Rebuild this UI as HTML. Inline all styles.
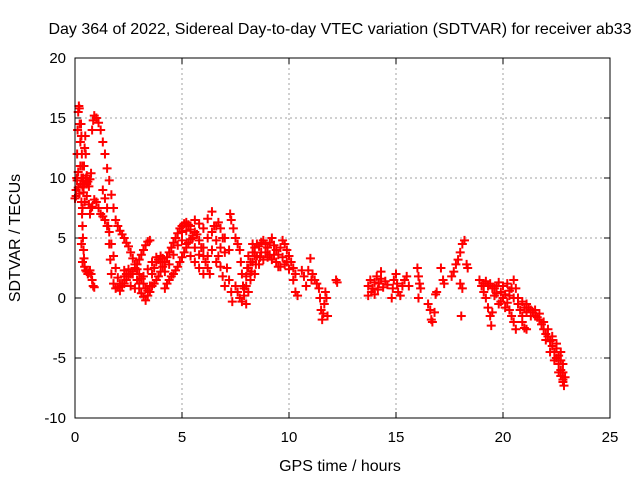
<!DOCTYPE html>
<html><head><meta charset="utf-8"><style>
body{margin:0;background:#fff}
svg{display:block;font-family:"Liberation Sans",sans-serif}
</style></head><body>
<svg id="chart" width="640" height="480" viewBox="0 0 640 480" xmlns="http://www.w3.org/2000/svg">
<rect width="640" height="480" fill="#fff"/>
<text x="340" y="34" font-size="16" text-anchor="middle">Day 364 of 2022, Sidereal Day-to-day VTEC variation (SDTVAR) for receiver ab33</text>
<g id="grid"></g>
<g id="ticks"></g>
<g id="marks"></g>
<rect x="75" y="58" width="535" height="360" fill="none" stroke="#000" stroke-width="1"/>
<text x="340" y="471" font-size="16" text-anchor="middle">GPS time / hours</text>
<text transform="translate(20,238) rotate(-90)" font-size="16" text-anchor="middle">SDTVAR / TECUs</text>
</svg>
<script>
const xTicks=[0,5,10,15,20,25];
const yTicks=[-10,-5,0,5,10,15,20];
const trackA=[[0.05,8.5],[0.08,10],[0.1,12],[0.12,14],[0.15,15.5],[0.18,16],[0.2,15.8],[0.22,14.5],[0.25,13],[0.28,14.5],[0.3,13.5],[0.32,12],[0.35,11],[0.38,10],[0.4,9.5],[0.42,11],[0.45,12.5],[0.48,13.5],[0.5,12],[0.52,10],[0.55,9.5]];
const trackX=[[0,8.3],[0.05,9],[0.1,9.8],[0.15,9.2],[0.2,8.7],[0.25,9.5],[0.3,10],[0.35,9.3],[0.4,8.8],[0.45,9.5],[0.5,9.8],[0.55,10.2],[0.6,9.7],[0.65,9.3],[0.7,9.9],[0.75,10.4]];
const trackDrop=[[0.3,8],[0.33,7],[0.35,6],[0.37,5],[0.4,4],[0.42,3.3],[0.45,2.6],[0.5,2.3],[0.55,2.2],[0.6,2],[0.65,2.1],[0.7,2.3],[0.75,2],[0.8,1.5],[0.85,1],[0.9,0.9]];
const trackB=[[0.8,14],[0.85,14.8],[0.9,15.2],[1.0,15],[1.1,14.6],[1.2,14],[1.3,13],[1.4,12],[1.5,10.8],[1.6,9.8],[1.7,8.6],[1.8,7.5],[1.9,6.5],[2.0,6],[2.1,5.6],[2.2,5.3],[2.3,5],[2.4,4.6],[2.5,4.3],[2.6,3.8],[2.7,3.3],[2.8,2.8],[2.9,2.4],[3.0,2],[3.1,1.6],[3.2,1.2],[3.3,0.8],[3.4,0.6],[3.5,0.5],[3.6,1],[3.7,1.2],[3.8,1.5],[3.9,1.8],[4.0,2.2],[4.1,2.6],[4.2,3],[4.3,3.4],[4.4,3.8],[4.5,4.2],[4.6,4.6],[4.7,5],[4.8,5.4],[4.9,5.8],[5.0,6],[5.1,6.2],[5.2,6.3],[5.3,6.1],[5.4,5.7],[5.5,5]];
const trackC=[[0.7,7],[0.8,7.6],[0.9,8.2],[1.0,8],[1.1,7.5],[1.2,7],[1.3,6.8],[1.4,6.5],[1.5,6],[1.6,5.5],[1.7,4.5],[1.8,3.5],[1.9,2.5],[2.0,1.7],[2.1,1.2],[2.2,1],[2.3,1.2],[2.4,1.5],[2.5,1.8],[2.6,2],[2.7,2.2],[2.8,2.5],[2.9,2.8],[3.0,3.2],[3.1,3.6],[3.2,4],[3.3,4.4],[3.4,4.7],[3.5,4.8]];
const trackD=[[1.3,9],[1.4,8.3],[1.5,7.5],[1.55,6],[1.6,4.5],[1.65,3.2],[1.7,2],[1.8,1.2],[1.9,0.8],[2.0,0.9],[2.1,0.6],[2.2,1.2],[2.3,1.8],[2.4,2]];
const trackE=[[2.3,2.3],[2.5,2.4],[2.7,2],[2.9,1.5],[3.0,0.8],[3.1,0.4],[3.2,0.1],[3.3,-0.2],[3.4,0.2],[3.5,1],[3.6,2],[3.7,2.5],[3.8,3],[3.9,3.2],[4.0,3.5],[4.1,3.3],[4.2,3]];
const trackF=[[4.2,0.8],[4.3,1.2],[4.4,1.5],[4.5,1.8],[4.6,2],[4.7,2.3],[4.8,2.6],[4.9,3],[5.0,3.4],[5.1,3.8],[5.2,4.2],[5.3,4.6],[5.4,4.9],[5.5,5.2],[5.6,5.5],[5.7,5.3],[5.8,4.8],[5.9,4.2],[6.0,3.5],[6.1,3],[6.2,2.5],[6.3,2]];
const trackG=[[5.0,5.5],[5.2,4.5],[5.4,3.5],[5.6,3],[5.8,3.6],[6.0,4.2],[6.2,5],[6.4,5.5],[6.6,6],[6.7,6.3],[6.8,5.8],[6.9,5],[7.0,3.8],[7.1,2.5],[7.2,1.5],[7.3,0.5],[7.35,-0.3]];
const trackH=[[5.6,6.5],[5.8,6.2],[6.0,5.8],[6.2,6.6],[6.4,7.2],[6.5,6],[6.6,4.8],[6.7,3.5],[6.8,2.6],[6.9,1.8],[7.0,1]];
const trackI=[[7.25,7],[7.3,6.5],[7.4,5.8],[7.5,5],[7.6,4.5],[7.7,4],[7.75,3],[7.8,2],[7.85,1],[7.9,0.2],[8.0,-0.5],[8.1,0.5],[8.2,2],[8.3,3],[8.4,3.5]];
const trackJ=[[7.5,1],[7.6,0.5],[7.7,0],[7.8,-0.3],[7.9,0.8],[8.0,1.8],[8.1,2.5],[8.2,3],[8.3,3.8],[8.4,4.2],[8.5,4.5],[8.6,4.3],[8.7,4.6],[8.8,4.8],[8.9,4.5],[9.0,4.2],[9.1,4.6],[9.2,5],[9.3,4.4],[9.4,4],[9.5,3.6],[9.6,4.2],[9.7,4.8],[9.8,4.5],[9.9,4],[10.0,3.5],[10.1,3],[10.2,2.5],[10.3,2]];
const trackK=[[8.0,1],[8.2,1.5],[8.4,2],[8.6,2.8],[8.8,3.2],[9.0,3.4],[9.2,3.2],[9.4,3],[9.6,2.6],[9.8,2.8],[10.0,2.4],[10.2,1.5],[10.3,0.5],[10.4,0.2]];
const trackL=[[10.6,2.3],[10.7,1.8],[10.8,1],[10.9,2.3],[11.0,3.3],[11.05,1.5],[11.1,2],[11.2,1.5],[11.3,1.2],[11.4,0.8],[11.45,0],[11.5,-1],[11.55,-1.8],[11.6,-1.3],[11.65,-0.5],[11.7,0.5],[11.75,0],[11.8,-1.5],[12.2,1.5],[12.25,1.3]];
const trackM=[[13.7,1],[13.8,1.5],[13.9,0.8],[14.0,1.3],[14.1,1.8],[14.2,1.2],[14.3,1.6],[14.4,0.9],[14.5,1.4],[14.6,1.1],[13.7,0.2],[14.0,0.3],[14.3,2.2],[13.85,0.5],[14.15,0.7]];
const trackN=[[14.8,0],[14.85,0.8],[14.9,1.5],[15.0,2],[15.05,1.2],[15.1,0.5],[15.2,0.2],[15.3,1],[15.4,1.5],[15.5,1.8],[15.6,1]];
const trackO=[[16.0,2.5],[16.05,1.8],[16.1,1.2],[16.15,0.8],[16.05,0]];
const trackP=[[16.5,-0.5],[16.6,-1],[16.65,-1.8],[16.7,-2],[16.8,-1.2],[16.85,0.3],[16.9,0.5]];
const trackQ=[[17.2,1.5],[17.25,1.2],[17.1,2.5]];
const trackR=[[17.6,1.8],[17.7,2.2],[17.8,2.8],[17.9,3.2],[18.0,3.8],[18.1,4.5],[18.2,4.8],[18.3,2.8],[18.35,2.5],[18.0,1.2],[18.1,0.8],[18.05,-1.5]];
const trackS=[[18.9,1.5],[19.0,1],[19.1,0.5],[19.2,0],[19.3,-0.8],[19.4,-1.5],[19.45,-2.3],[19.5,-1.2],[19.6,0.2],[19.7,1],[19.8,1.3],[19.9,0.5],[20.0,0],[19.2,1.4],[19.4,1.2],[19.6,0.8],[19.8,-0.5],[20.0,1],[20.2,1.2],[20.3,0.6],[20.4,0.8],[20.1,0.3],[20.2,-0.4],[20.3,-1],[20.4,-1.5],[20.5,-2],[20.6,-2.6]];
const trackT=[[20.5,1.5],[20.6,0.8],[20.7,0],[20.8,-1],[20.9,-1.5],[21.0,-0.8],[21.1,-0.5],[21.2,-0.8],[21.3,-1],[21.4,-1.2],[21.5,-1.5],[21.6,-1.6],[21.7,-1.8],[21.8,-2.2],[21.9,-2.6],[22.0,-3],[22.1,-3.2],[22.2,-3.6],[22.3,-4],[22.4,-4.5],[22.5,-5],[22.6,-5.5],[22.7,-6],[22.8,-6.8],[22.85,-7.3]];
const trackU=[[20.9,-2],[21.0,-2.5],[21.1,-2.6],[22.0,-3.5],[22.2,-4.5],[22.4,-5.2],[22.6,-6.2],[22.7,-6.5],[22.8,-7],[22.3,-3.2],[22.5,-3.8],[22.7,-4.5],[22.8,-5.5]];
const trackV=[[2.6,1],[2.8,0.8],[3.0,1.2],[3.2,1.8],[3.4,2.4],[3.6,3],[3.8,3.4],[4.0,3],[4.2,2.2],[4.4,2.8],[4.6,3.6],[4.8,4.4],[5.0,4.8],[5.2,5.6],[5.4,6],[5.6,4.2],[5.8,2.5],[6.0,2],[6.2,3.5],[6.4,4],[6.6,3],[6.8,4.2],[7.0,5],[7.2,4]];
const trackW=[[8.1,3.5],[8.3,4.5],[8.5,3.5],[8.7,3.8],[8.9,3.8],[9.1,3.6],[9.3,3.6],[9.5,2.6],[9.7,3.4],[9.9,3],[8.05,2.5],[8.25,2.2],[8.45,2.8],[8.65,3.4]];
const trackY=[[19.1,1.2],[19.3,1],[19.5,0.8],[19.7,0.4],[19.9,-0.3],[20.1,-0.8],[20.3,0.2],[20.5,0],[20.7,-0.5],[20.9,-0.3],[21.1,-1.2],[21.3,-1.5],[21.5,-1],[21.7,-1.3],[21.9,-2],[22.1,-2.6],[22.3,-3.5],[22.5,-4.2],[22.6,-4.8],[22.7,-5.2],[22.8,-6.2],[22.9,-6.6]];
const trackZ=[[0.15,10.5],[0.25,11],[0.35,7.5],[0.45,8],[0.55,8.5],[0.65,7.8],[0.75,7.5],[0.3,4.5],[0.35,3]];
const tracks=[trackA,trackX,trackDrop,trackB,trackC,trackD,trackE,trackF,trackG,trackH,trackI,trackJ,trackK,trackL,trackM,trackN,trackO,trackP,trackQ,trackR,trackS,trackT,trackU,trackV,trackW,trackY,trackZ];

const NS="http://www.w3.org/2000/svg";
const L=75,R=610,T=58,B=418;
function xs(t){return L+(t-0)/(25-0)*(R-L);}
function ys(v){return B-(v+10)/(30)*(B-T);}
const grid=document.getElementById('grid'),ticks=document.getElementById('ticks'),marks=document.getElementById('marks');
function mk(tag,attrs,parent){const e=document.createElementNS(NS,tag);for(const k in attrs)e.setAttribute(k,attrs[k]);parent.appendChild(e);return e;}
xTicks.forEach(t=>{
  const x=xs(t);
  if(t>0&&t<25){const g=mk('line',{x1:x,x2:x,y1:T,y2:B,stroke:'#a0a0a0','stroke-dasharray':'2,3'},grid);
  
  }
  mk('line',{x1:x,x2:x,y1:B,y2:B-6,stroke:'#000'},ticks);
  mk('line',{x1:x,x2:x,y1:T,y2:T+6,stroke:'#000'},ticks);
  const lb=mk('text',{x:x,y:B+24,'font-size':15,'text-anchor':'middle'},ticks);
  lb.textContent=t;
  
  
});
yTicks.forEach(v=>{
  const y=ys(v);
  if(v>-10&&v<20){const g=mk('line',{x1:L,x2:R,y1:y,y2:y,stroke:'#a0a0a0','stroke-dasharray':'2,3'},grid);
  
  }
  mk('line',{x1:L,x2:L+6,y1:y,y2:y,stroke:'#000'},ticks);
  mk('line',{x1:R,x2:R-6,y1:y,y2:y,stroke:'#000'},ticks);
  const lb=mk('text',{x:L-9,y:y+5,'font-size':15,'text-anchor':'end'},ticks);
  lb.textContent=v;
  
  
});
let d='';
tracks.forEach(tr=>tr.forEach(p=>{const x=xs(p[0]),y=ys(p[1]);d+=`M${x-4.5} ${y}h9M${x} ${y-4.5}v9`;}));
const path=mk('path',{d:d,stroke:'#f00','stroke-width':2,fill:'none'},marks);


</script>
</body></html>
